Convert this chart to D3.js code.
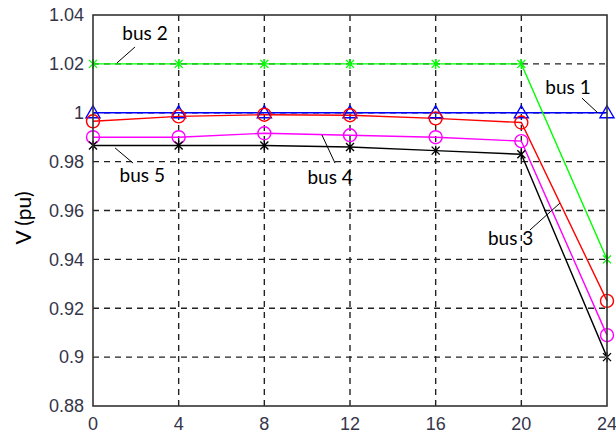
<!DOCTYPE html>
<html>
<head>
<meta charset="utf-8">
<script src="https://cdn.jsdelivr.net/npm/d3@7"></script>
<style>
  body { margin: 0; background: #fff; }
  svg { display: block; }
</style>
</head>
<body>
<svg width="616" height="436"></svg>
<script>
// Data
const hours = [0, 4, 8, 12, 16, 20, 24];
const bus1 = [1.000, 1.000, 1.000, 1.000, 1.000, 1.000, 1.000];
const bus2 = [1.020, 1.020, 1.020, 1.020, 1.020, 1.020, 0.940];
const bus3 = [0.9965, 0.9985, 0.9992, 0.999, 0.9977, 0.996, 0.923];
const bus4 = [0.990, 0.990, 0.9916, 0.9908, 0.990, 0.9884, 0.909];
const bus5 = [0.9866, 0.9866, 0.9866, 0.986, 0.9845, 0.983, 0.900];
const xTicks = [0, 4, 8, 12, 16, 20, 24];
const yTicks = [0.88, 0.9, 0.92, 0.94, 0.96, 0.98, 1, 1.02, 1.04];

const series = [
  { name: "bus 1", values: bus1, color: "#0000ff", marker: "triangle" },
  { name: "bus 2", values: bus2, color: "#00ff00", marker: "star" },
  { name: "bus 3", values: bus3, color: "#ff0000", marker: "circle" },
  { name: "bus 4", values: bus4, color: "#ff00ff", marker: "circle" },
  { name: "bus 5", values: bus5, color: "#000000", marker: "star" }
];

const svg = d3.select("svg"),
    width = +svg.attr("width"),
    height = +svg.attr("height");
const margin = { top: 15, right: 9, bottom: 30, left: 93 };

const x = d3.scaleLinear().domain([0, 24]).range([margin.left, width - margin.right]);
const y = d3.scaleLinear().domain([0.88, 1.04]).range([height - margin.bottom, margin.top]);

// Grid
const grid = svg.append("g")
    .attr("stroke", "#222")
    .attr("stroke-dasharray", "6,5")
    .attr("stroke-width", 1.4);
xTicks.slice(1, -1).forEach(t => {
  grid.append("line")
      .attr("x1", x(t)).attr("x2", x(t))
      .attr("y1", y(0.88)).attr("y2", y(1.04));
});
yTicks.slice(1, -1).forEach(t => {
  grid.append("line")
      .attr("x1", x(0)).attr("x2", x(24))
      .attr("y1", y(t)).attr("y2", y(t));
});

// Lines
const line = d3.line()
    .x((d, i) => x(hours[i]))
    .y(d => y(d));

series.forEach(s => {
  svg.append("path")
      .datum(s.values)
      .attr("fill", "none")
      .attr("stroke", s.color)
      .attr("stroke-width", 1.4)
      .attr("d", line);
});

// Markers
series.forEach(s => {
  const g = svg.append("g")
      .attr("fill", "none")
      .attr("stroke", s.color)
      .attr("stroke-width", 1.4);
  s.values.forEach((v, i) => {
    const cx = x(hours[i]), cy = y(v);
    if (s.marker === "circle") {
      g.append("circle").attr("cx", cx).attr("cy", cy).attr("r", 6.5);
    } else if (s.marker === "triangle") {
      g.append("path")
          .attr("d", `M${cx},${cy - 7}L${cx + 7},${cy + 5}L${cx - 7},${cy + 5}Z`);
    } else {
      const r = 4;
      g.append("path")
          .attr("d", `M${cx - r},${cy - r}L${cx + r},${cy + r}M${cx - r},${cy + r}L${cx + r},${cy - r}` +
                     `M${cx},${cy - r - 1}L${cx},${cy + r + 1}`);
    }
  });
});

// Axis box
svg.append("rect")
    .attr("x", x(0)).attr("y", y(1.04))
    .attr("width", x(24) - x(0))
    .attr("height", y(0.88) - y(1.04))
    .attr("fill", "none")
    .attr("stroke", "#333")
    .attr("stroke-width", 1.6);

// Tick labels
svg.append("g")
  .selectAll("text")
  .data(yTicks)
  .enter()
  .append("text")
    .attr("x", x(0) - 9)
    .attr("y", d => y(d))
    .attr("dy", "0.35em")
    .attr("text-anchor", "end")
    .style("font-family", "Liberation Sans, Arial, sans-serif")
    .style("font-size", "18px")
    .style("fill", "#35354a")
    .text(d => +d.toFixed(2));

svg.append("g")
  .selectAll("text")
  .data(xTicks)
  .enter()
  .append("text")
    .attr("x", d => x(d))
    .attr("y", 430)
    .attr("text-anchor", "middle")
    .style("font-family", "Liberation Sans, Arial, sans-serif")
    .style("font-size", "18px")
    .style("fill", "#35354a")
    .text(d => d);

// Y axis label
svg.append("text")
    .attr("transform", `translate(24,218) rotate(-90)`)
    .attr("text-anchor", "middle")
    .attr("dy", "0.35em")
    .style("font-family", "Lato, sans-serif")
    .style("font-size", "21px")
    .text("V (pu)");

// Bus annotations: label position and leader line, in data units
const notes = [
  { text: "bus 2", tx: 2.43, ty: 1.0326, lx1: 1.12, ly1: 1.0204, lx2: 1.96, ly2: 1.0269 },
  { text: "bus 5", tx: 2.3, ty: 0.9745, lx1: 1.03, ly1: 0.9856, lx2: 1.87, ly2: 0.9794 },
  { text: "bus 4", tx: 11.07, ty: 0.9737, lx1: 10.69, ly1: 0.9909, lx2: 11.3, ly2: 0.9794 },
  { text: "bus 1", tx: 22.18, ty: 1.0105, lx1: 22.83, ly1: 1.006, lx2: 23.58, ly2: 0.9999 },
  { text: "bus 3", tx: 19.5, ty: 0.9485, lx1: 20.4, ly1: 0.952, lx2: 21.8, ly2: 0.963 }
];
const ann = svg.append("g");
notes.forEach(n => {
  ann.append("line")
      .attr("x1", x(n.lx1)).attr("y1", y(n.ly1))
      .attr("x2", x(n.lx2)).attr("y2", y(n.ly2))
      .attr("stroke", "#000")
      .attr("stroke-width", 1);
  ann.append("text")
      .attr("x", x(n.tx))
      .attr("y", y(n.ty))
      .attr("dy", "0.35em")
      .attr("text-anchor", "middle")
      .style("font-family", "Lato, sans-serif")
      .style("font-size", "19px")
      .text(n.text);
});
</script>
</body>
</html>
